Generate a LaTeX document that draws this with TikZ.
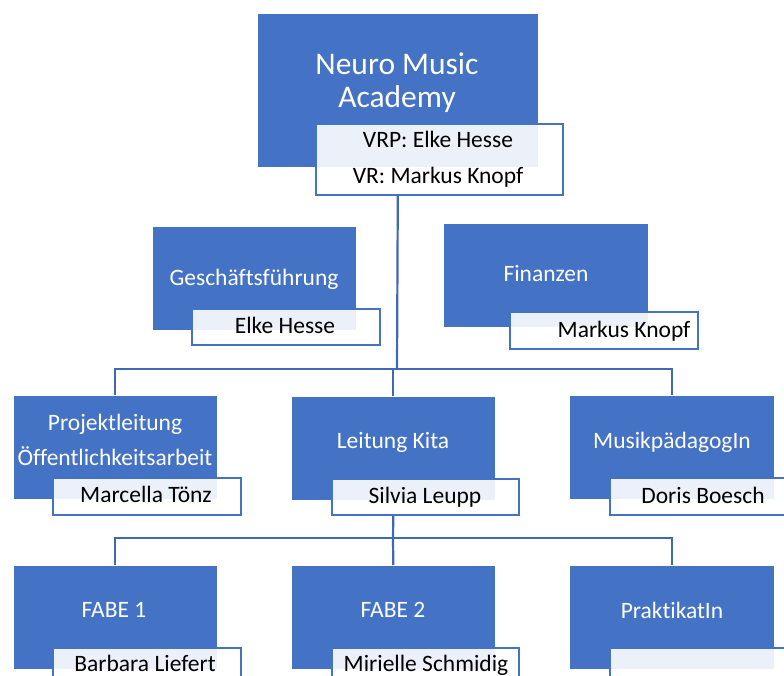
\documentclass[tikz,border=0pt]{standalone}
\usepackage{fontspec}
\setmainfont{Carlito}[Ligatures={NoCommon}]
\definecolor{obl}{HTML}{4472C4}
\begin{document}
\begin{tikzpicture}[x=1pt,y=-1pt,
  box/.style={draw=white, line width=0.6pt, fill=obl, inner sep=0, anchor=north west},
  lab/.style={draw=obl, line width=2pt, fill=white, fill opacity=0.9, draw opacity=1, inner sep=0, anchor=north west},
  big/.style={text=white, font=\fontsize{31.5}{33}\selectfont, anchor=base, inner sep=0},
  wt/.style={text=white, font=\fontsize{23.5}{25}\selectfont, anchor=base, inner sep=0},
  bt/.style={text=black, font=\fontsize{23.5}{25}\selectfont, anchor=base, inner sep=0},
  conn/.style={draw=obl!92!black, line width=2.2pt}]
\useasboundingbox (0,0) rectangle (784,676);
\clip (0,0) rectangle (784,676);
% blue boxes
\node[box, minimum width=281pt, minimum height=154pt] (top) at (257,13) {};
\node[box, minimum width=204pt, minimum height=104pt] (gf) at (152,226) {};
\node[box, minimum width=205pt, minimum height=104pt] (fi) at (443,223) {};
\node[box, minimum width=204pt, minimum height=104pt] (pl) at (13,395) {};
\node[box, minimum width=204pt, minimum height=104pt] (lk) at (291,396) {};
\node[box, minimum width=205pt, minimum height=104pt] (mp) at (569,395) {};
\node[box, minimum width=204pt, minimum height=104pt] (f1) at (13,565) {};
\node[box, minimum width=204pt, minimum height=104pt] (f2) at (291,565) {};
\node[box, minimum width=205pt, minimum height=104pt] (pr) at (569,565) {};
% label boxes
\node[lab, minimum width=247pt, minimum height=71pt] (toplab) at (315,123) {};
\node[lab, minimum width=188pt, minimum height=36pt] (gflab) at (191,308) {};
\node[lab, minimum width=188pt, minimum height=37pt] (filab) at (509,311) {};
\node[lab, minimum width=188pt, minimum height=37pt] (pllab) at (52,477) {};
\node[lab, minimum width=187pt, minimum height=36pt] (lklab) at (331,478) {};
\node[lab, minimum width=188pt, minimum height=37pt] (mplab) at (609,477) {};
\node[lab, minimum width=188pt, minimum height=37pt] (f1lab) at (52,647) {};
\node[lab, minimum width=187pt, minimum height=37pt] (f2lab) at (331,647) {};
\node[lab, minimum width=188pt, minimum height=37pt] (prlab) at (609,647) {};
% connectors
\coordinate (b1) at (397,369);
\coordinate (b2) at (393,538);
\draw[conn] (top.south |- toplab.south) -- (b1);
\draw[conn] (pl.north) |- (b1) -| (mp.north);
\draw[conn] (lk.north |- b1) -- (lk.north);
\draw[conn] (lk.south |- lklab.south) -- (b2);
\draw[conn] (f1.north) |- (b2) -| (pr.north);
\draw[conn] (b2) -- (f2.north);
% texts
\node[big] (t1a) at (397,75) {Neuro Music};
\node[big] (t1b) at (397,108) {Academy};
\node[bt] (l1a) at (438,148) {VRP: Elke Hesse};
\node[bt] (l1b) at (438,184) {VR: Markus Knopf};
\node[wt] (t2) at (254,285) {Geschäftsführung};
\node[bt] (l2) at (285,333) {Elke Hesse};
\node[wt] (t3) at (546,282) {Finanzen};
\node[bt] (l3) at (624,337) {Markus Knopf};
\node[wt] (t4a) at (115,430) {Projektleitung};
\node[wt] (t4b) at (115,465) {Öffentlichkeitsarbeit};
\node[bt] (l4) at (146,502) {Marcella Tönz};
\node[wt] (t5) at (393,448) {Leitung Kita};
\node[bt] (l5) at (425,503) {Silvia Leupp};
\node[wt] (t6) at (672,448) {MusikpädagogIn};
\node[bt] (l6) at (703,503) {Doris Boesch};
\node[wt] (t7) at (114,617) {FABE 1};
\node[bt] (l7) at (145,671) {Barbara Liefert};
\node[wt] (t8) at (393,617) {FABE 2};
\node[bt] (l8) at (426,671) {Mirielle Schmidig};
\node[wt] (t9) at (672,618) {PraktikatIn};
\end{tikzpicture}
\end{document}
